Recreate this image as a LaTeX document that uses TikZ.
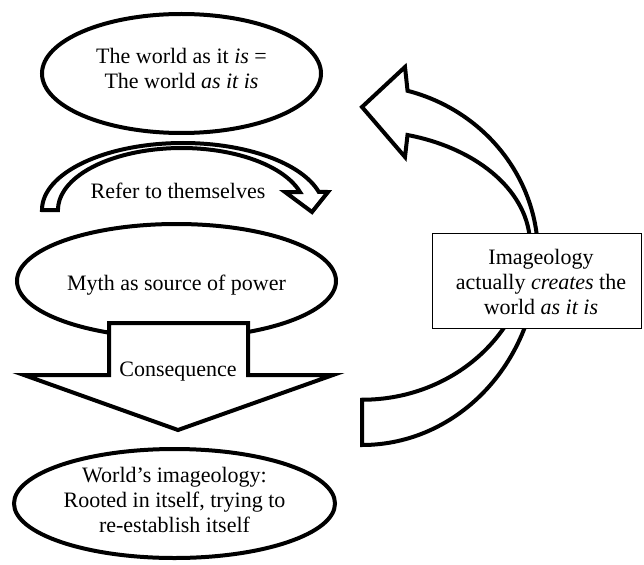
\documentclass[tikz,border=0pt]{standalone}
\usepackage{fontspec}
\setmainfont{Liberation Serif}
\usepackage{xcolor}
\newcommand{\WorldText}
{The world as it \textit{is} =\\The world \textit{as it is}}
\newcommand{\RootsText}
{World's imageology:\\Rooted in itself, trying to\\re-establish itself}
\newcommand{\CreatesText}
{Imageology\\actually \textit{creates} the\\world \textit{as it is}}
\usetikzlibrary{shapes.geometric}

\begin{document}
\begin{tikzpicture}[x=1pt, y=1pt,
        bubble/.style={ellipse, draw, line width=4pt, fill=white, inner sep=0pt},
        blockarrow/.style={draw, line width=4pt, fill=white},
        bodytext/.style={align=center, inner sep=0pt, font=\fontsize{22}{25}\selectfont}]
    \useasboundingbox (0,0) rectangle (644,-564);

    % left column
    \node[bubble, minimum width=279pt, minimum height=119pt] (world) at (181.5,-73.5) {};
    \node[bodytext] (worldtext) at (181.5,-68) {\WorldText};

    \draw[blockarrow] (42,-210) arc[start angle=180, end angle=15.6, x radius=141, y radius=67]
        -- (328,-192) -- (312,-212) -- (285,-192) -- (300,-192)
        arc[start angle=16.9, end angle=180, x radius=123.7, y radius=62] -- cycle;
    \node[bodytext] (refer) at (178,-191) {Refer to themselves};

    \node[bubble, minimum width=319pt, minimum height=114pt] (myth) at (176.5,-281) {};
    \node[bodytext] (mythtext) at (176.5,-285) {Myth as source of power};

    \draw[blockarrow] (109,-323) -- (248,-323) -- (248,-375) -- (333,-375)
        -- (178,-430) -- (24,-375) -- (109,-375) -- cycle;
    \node[bodytext] (consequence) at (178,-372) {Consequence};

    \node[bubble, minimum width=321pt, minimum height=109pt] (roots) at (174.5,-503.5) {};
    \node[bodytext] (rootstext) at (174.5,-500) {\RootsText};

    % right side
    \draw[blockarrow] (362,-445) arc[start angle=-90, end angle=0, x radius=176, y radius=190]
        arc[start angle=0, end angle=75, x radius=176, y radius=170]
        -- (405,-67) -- (362,-107) -- (405,-157) -- (407.5,-135)
        arc[start angle=74.3, end angle=0, x radius=168, y radius=114]
        arc[start angle=0, end angle=-90, x radius=168, y radius=155] -- cycle;

    \node[draw, line width=1pt, fill=white, minimum width=209pt, minimum height=95pt] (createsbox) at (537,-281) {};
    \node[bodytext] (createstext) at (541,-281.5) {\CreatesText};
\end{tikzpicture}
\end{document}
